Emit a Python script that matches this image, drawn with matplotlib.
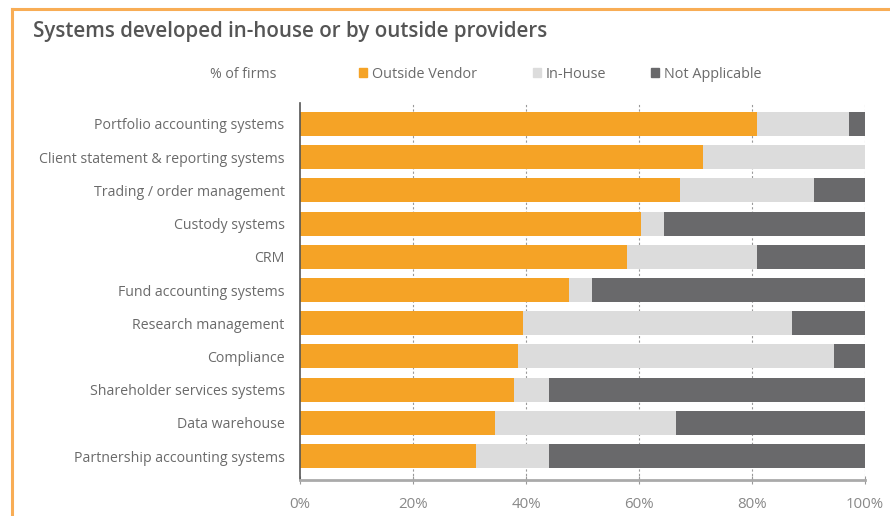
import matplotlib
matplotlib.use("Agg")
import matplotlib.pyplot as plt
from matplotlib.patches import Rectangle
from matplotlib.lines import Line2D

categories = ["Portfolio accounting systems", "Client statement & reporting systems",
              "Trading / order management", "Custody systems", "CRM",
              "Fund accounting systems", "Research management", "Compliance",
              "Shareholder services systems", "Data warehouse",
              "Partnership accounting systems"]
outside_vendor = [80.8, 71.4, 67.2, 60.3, 57.8, 47.6, 39.4, 38.6, 37.9, 34.5, 31.2]
in_house = [16.3, 28.6, 23.8, 4.2, 23.0, 4.1, 47.6, 56.0, 6.1, 32.0, 12.8]
not_applicable = [2.9, 0.0, 9.0, 35.5, 19.2, 48.3, 13.0, 5.4, 56.0, 33.5, 56.0]
series_names = ["Outside Vendor", "In-House", "Not Applicable"]
xticks = [0, 20, 40, 60, 80, 100]
xticklabels = ["0%", "20%", "40%", "60%", "80%", "100%"]

colors = ["#F5A326", "#DCDCDC", "#69696B"]
text_col = "#6a6a6a"
font = "Open Sans"

W, H = 890, 516
fig = plt.figure(figsize=(W / 100, H / 100), dpi=100)
ax = fig.add_axes([300 / W, 1 - 480 / H, 565 / W, 377 / H])

ypos = list(range(len(categories)))
left = [0.0] * len(categories)
for vals, c in zip([outside_vendor, in_house, not_applicable], colors):
    ax.barh(ypos, vals, left=left, height=0.72, color=c, edgecolor="none", zorder=2)
    left = [l + v for l, v in zip(left, vals)]

ax.set_xlim(0, 100)
ax.set_ylim(10.72, -0.63)
ax.set_yticks(ypos)
ax.set_yticklabels(categories, fontsize=10.2, color=text_col, family=font)
ax.tick_params(axis="y", length=0, pad=11)
ax.set_xticks(xticks)
ax.set_xticklabels(xticklabels, fontsize=10.8, color="#888888", family=font)
ax.tick_params(axis="x", direction="inout", length=6, color="#999999", pad=9)
for x in xticks[1:]:
    ax.axvline(x, color="#999999", lw=0.8, ls=(0, (2, 2)), zorder=1)

for s in ["top", "right"]:
    ax.spines[s].set_visible(False)
ax.spines["left"].set_color("#555555")
ax.spines["left"].set_linewidth(1.2)
ax.spines["bottom"].set_color("#aaaaaa")
ax.spines["bottom"].set_linewidth(2)

# Title
fig.text(33 / W, 1 - 32 / H, "Systems developed in-house or by outside providers",
         fontsize=14.8, fontweight="semibold", color="#555555", family=font,
         ha="left", va="center")

# Legend row
ly = 1 - 74 / H
fig.text(277 / W, ly, "% of firms", fontsize=10.2, color=text_col, family=font,
         ha="right", va="center")
leg_x = [359, 533, 651]
for x, name, c in zip(leg_x, series_names, colors):
    fig.patches.append(Rectangle((x / W, 1 - 77 / H), 8 / W, 9 / H,
                                 transform=fig.transFigure, color=c))
    fig.text((x + 13) / W, ly, name, fontsize=10.4, color=text_col, family=font,
             ha="left", va="center")

# Orange frame
fc = "#F8AD55"
fig.add_artist(Line2D([12 / W, 1.0], [1 - 9 / H, 1 - 9 / H], color=fc, lw=2.2,
                      transform=fig.transFigure))
fig.add_artist(Line2D([12 / W, 12 / W], [0, 1 - 9 / H], color=fc, lw=2.2,
                      transform=fig.transFigure))

fig.savefig("out.png", dpi=100)
